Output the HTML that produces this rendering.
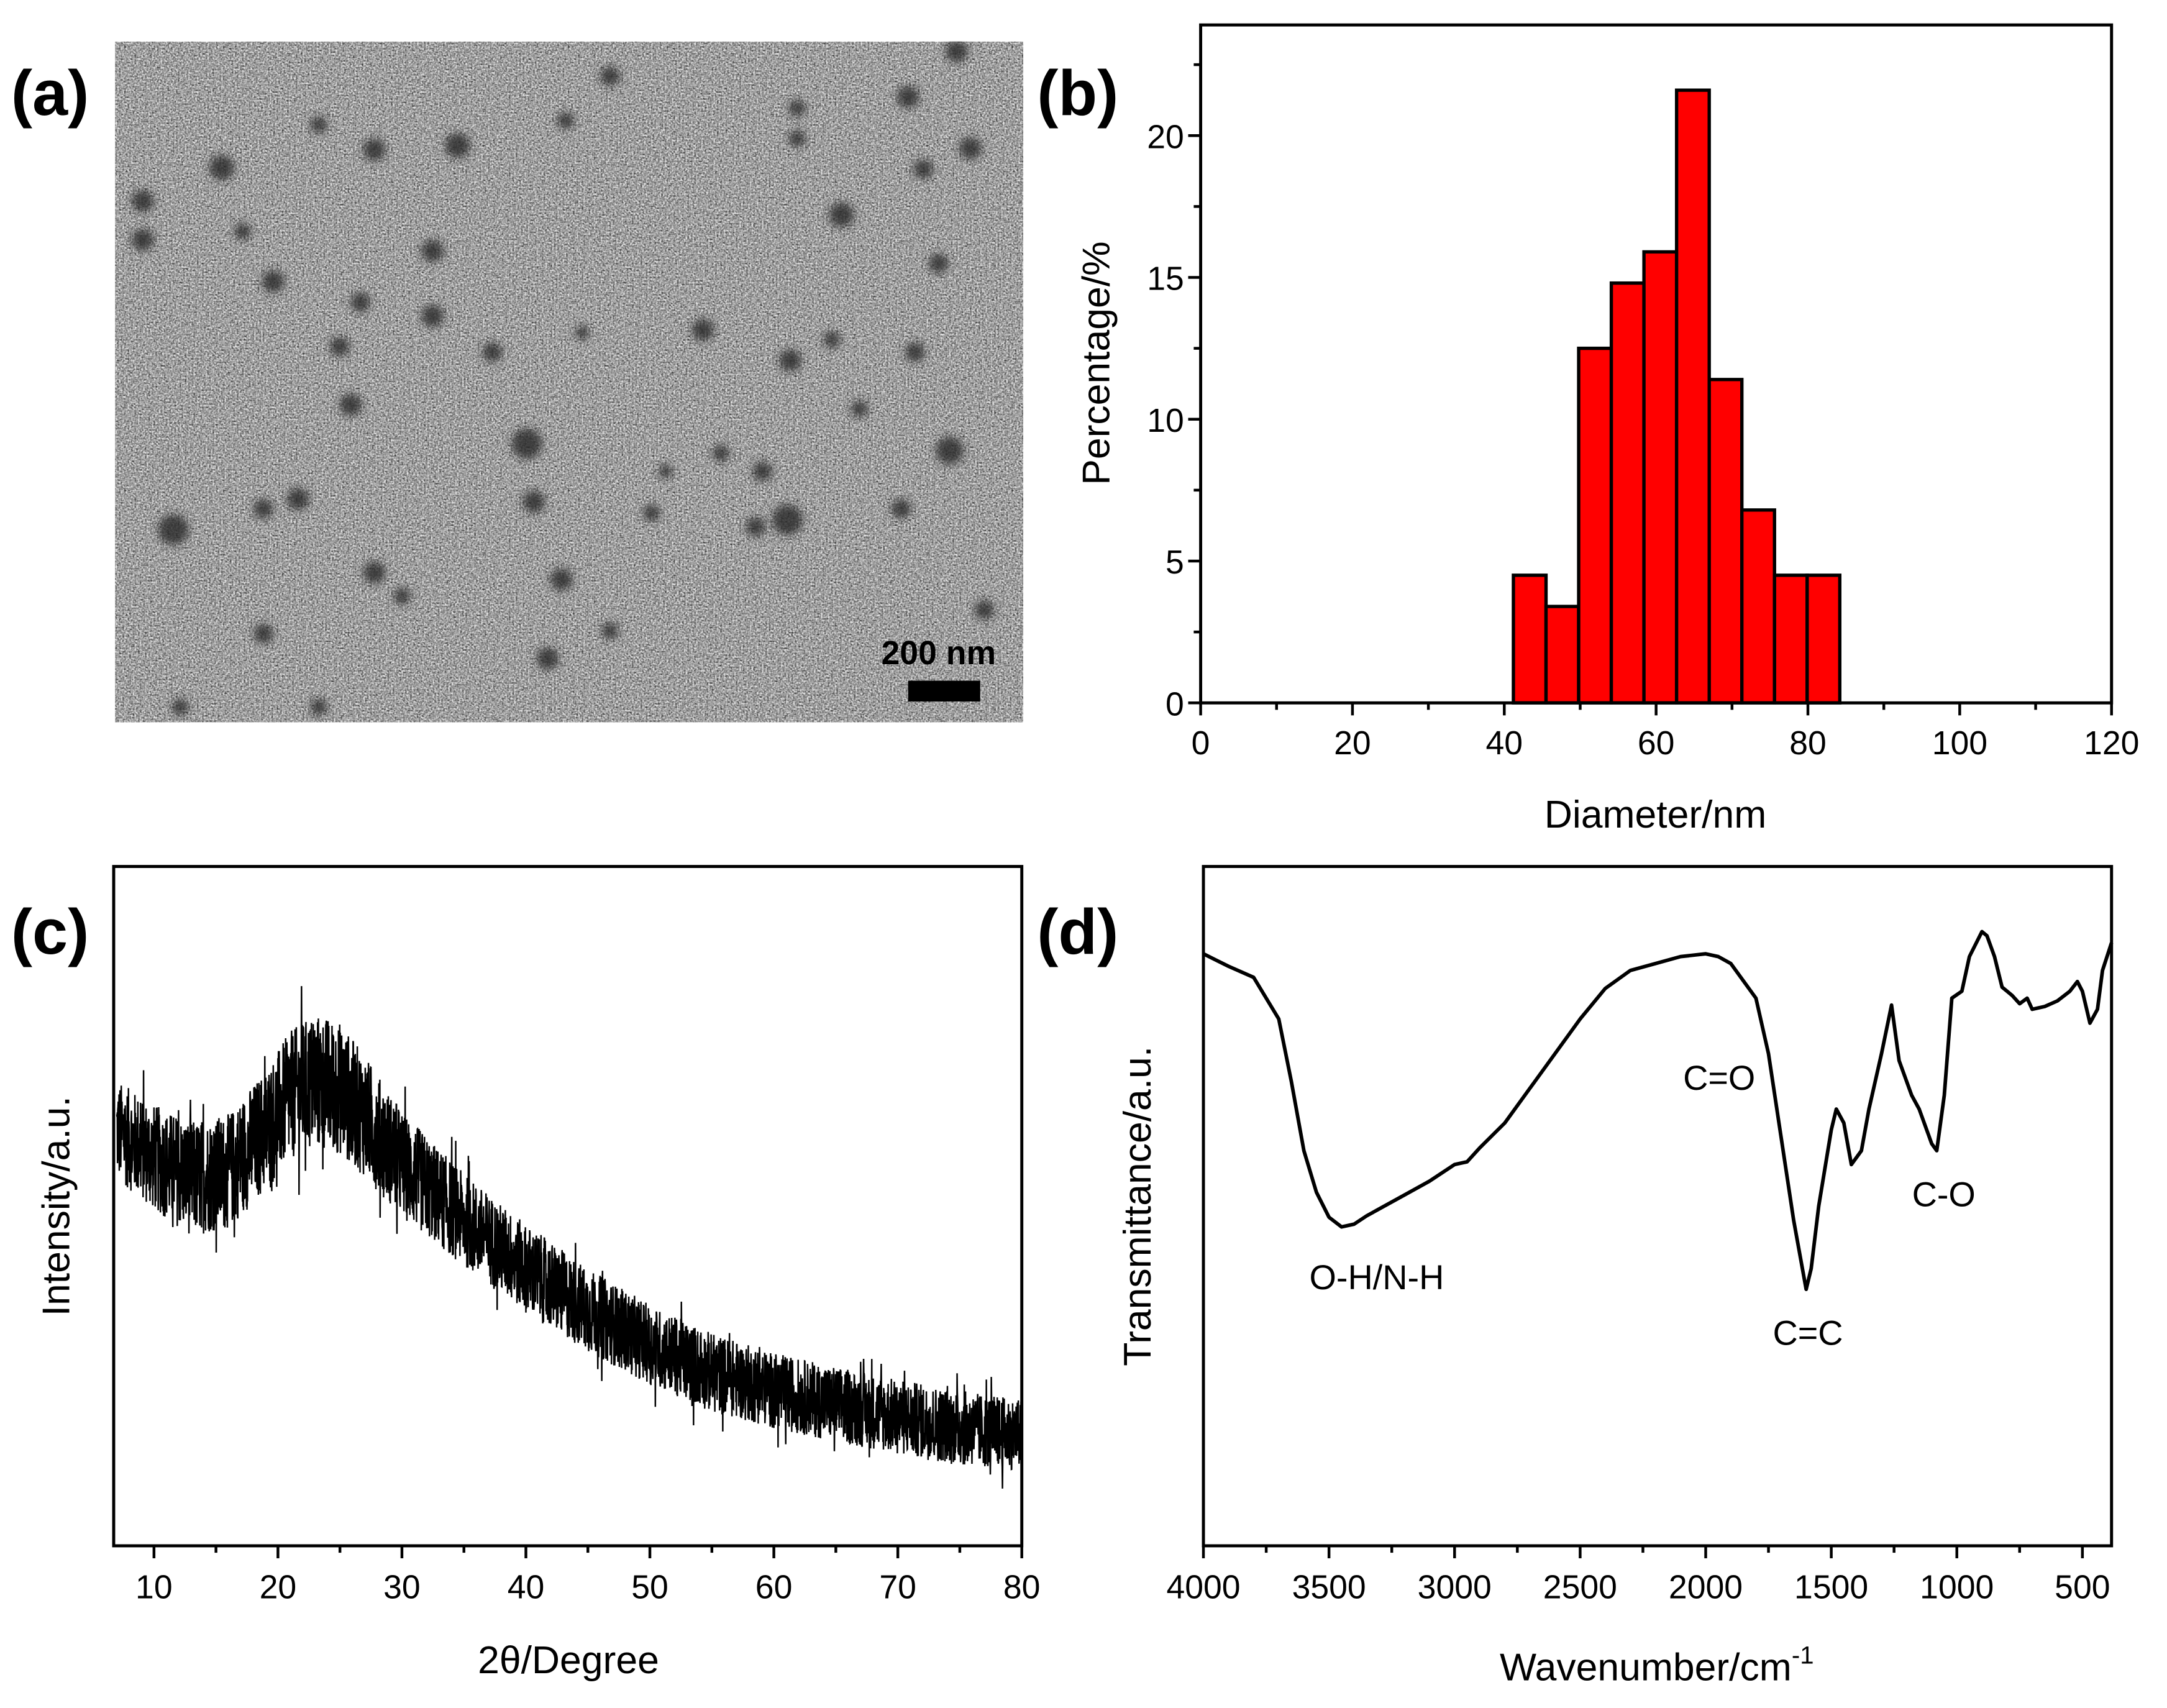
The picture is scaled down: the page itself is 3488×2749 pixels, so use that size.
<!DOCTYPE html>
<html><head><meta charset="utf-8">
<style>
html,body{margin:0;padding:0;background:#fff;}
svg{display:block;}
text{font-family:"Liberation Sans",sans-serif;}
</style></head>
<body>
<svg id="fig" width="3488" height="2749" viewBox="0 0 1563 1232" preserveAspectRatio="none" xmlns="http://www.w3.org/2000/svg">
<defs>
<filter id="grain" x="0" y="0" width="100%" height="100%" color-interpolation-filters="sRGB">
<feTurbulence type="fractalNoise" baseFrequency="0.8" numOctaves="2" seed="3" result="n"/>
<feColorMatrix type="matrix" values="0.33 0.33 0.33 0 0  0.33 0.33 0.33 0 0  0.33 0.33 0.33 0 0  0 0 0 0 1"/>
<feComponentTransfer><feFuncR type="linear" slope="2.6" intercept="-0.68"/><feFuncG type="linear" slope="2.6" intercept="-0.68"/><feFuncB type="linear" slope="2.6" intercept="-0.68"/></feComponentTransfer>
</filter>
<filter id="soft"><feGaussianBlur stdDeviation="3"/></filter>
<clipPath id="clipA"><rect x="83" y="30" width="655" height="491"/></clipPath>
<clipPath id="clipC"><rect x="82" y="625" width="655" height="490"/></clipPath>
</defs>

<!-- Panel a -->
<text x="8" y="83" font-size="46" font-weight="bold">(a)</text>
<g id="tem" clip-path="url(#clipA)">
<rect x="83" y="30" width="655" height="491" fill="#a8a8a8"/>
<rect x="83" y="30" width="655" height="491" filter="url(#grain)" opacity="0.7"/>
<g id="spots" filter="url(#soft)"></g>
</g>
<text x="677" y="479" font-size="24" font-weight="bold" text-anchor="middle">200 nm</text>
<rect x="655" y="491" width="52" height="15" fill="#000"/>

<!-- Panel b -->
<text x="748" y="83" font-size="46" font-weight="bold">(b)</text>
<g id="panelB"></g>
<text x="1194" y="597" font-size="28" text-anchor="middle">Diameter/nm</text>
<text transform="translate(800,262) rotate(-90)" font-size="28" text-anchor="middle">Percentage/%</text>

<!-- Panel c -->
<text x="8" y="688" font-size="46" font-weight="bold">(c)</text>
<g id="panelC"></g>
<text x="410" y="1207" font-size="28" text-anchor="middle">2θ/Degree</text>
<text transform="translate(50,870) rotate(-90)" font-size="28" text-anchor="middle">Intensity/a.u.</text>

<!-- Panel d -->
<text x="748" y="688" font-size="46" font-weight="bold">(d)</text>
<g id="panelD"></g>
<text x="1195" y="1212" font-size="28" text-anchor="middle">Wavenumber/cm<tspan dy="-12" font-size="18">-1</tspan></text>
<text transform="translate(830,870) rotate(-90)" font-size="28" text-anchor="middle">Transmittance/a.u.</text>
<text x="993" y="930" font-size="25" text-anchor="middle">O-H/N-H</text>
<text x="1240" y="786" font-size="25" text-anchor="middle">C=O</text>
<text x="1304" y="970" font-size="25" text-anchor="middle">C=C</text>
<text x="1402" y="870" font-size="25" text-anchor="middle">C-O</text>
</svg>

<script>
const NS = "http://www.w3.org/2000/svg";
// ---- Panel a spots (image features) ----
const spotX = [160,270,330,103,103,175,197,260,312,312,245,253,355,380,385,440,408,655,690,700,607,666,677,507,570,600,660,550,568,545,685,125,215,190,270,405,190,395,440,520,470,650,710,620,575,575,290,130,230,230,420,480];
const spotY = [121,108,105,145,173,167,203,218,181,228,250,292,254,320,362,55,87,70,37,107,155,122,190,238,260,245,254,340,375,380,325,382,360,367,413,418,457,475,455,327,370,367,440,295,78,100,430,510,90,510,240,340];
const spotR = [9,8,9,8,8,6,8,7,8,8,7,8,7,11,8,7,6,8,8,8,9,7,7,8,8,6,7,7,11,7,10,11,8,7,8,8,7,8,6,6,6,7,7,6,6,6,6,6,6,6,5,5];
const spots = document.getElementById('spots');
for (let i=0;i<spotX.length;i++){
  const c=document.createElementNS(NS,'circle');
  c.setAttribute('cx',spotX[i]);c.setAttribute('cy',spotY[i]);c.setAttribute('r',spotR[i]);
  c.setAttribute('fill','#252525');c.setAttribute('opacity','0.8');
  
  
  spots.appendChild(c);
}

function mk(tag, attrs, parent){
  const e=document.createElementNS(NS,tag);
  for(const k in attrs) e.setAttribute(k,attrs[k]);
  parent.appendChild(e); return e;
}

// ---- Panel b: histogram ----
const binStarts = [41.2,45.5,49.8,54.1,58.4,62.7,67.0,71.3,75.6,79.9];
const binWidth = 4.3;
const percentages = [4.5,3.4,12.5,14.8,15.9,21.6,11.4,6.8,4.5,4.5];
const bXTicks = [0,20,40,60,80,100,120];
const bYTicks = [0,5,10,15,20];
const B = {l:866,r:1523,t:18,b:507,x0:0,x1:120,y0:0,y1:23.9};
const bx = v => B.l + (v-B.x0)/(B.x1-B.x0)*(B.r-B.l);
const by = v => B.b - (v-B.y0)/(B.y1-B.y0)*(B.b-B.t);
const gB = document.getElementById('panelB');
for (let i=0;i<percentages.length;i++){
  const r=mk('rect',{x:bx(binStarts[i]),y:by(percentages[i]),width:bx(binStarts[i]+binWidth)-bx(binStarts[i]),height:by(0)-by(percentages[i]),fill:'#ff0000',stroke:'#000','stroke-width':2.4},gB);
  
  
}
let fb=mk('rect',{x:B.l,y:B.t,width:B.r-B.l,height:B.b-B.t,fill:'none',stroke:'#000','stroke-width':2.2},gB);


for (let v=0; v<=120; v+=10){
  const major = bXTicks.includes(v);
  mk('line',{x1:bx(v),x2:bx(v),y1:B.b,y2:B.b+(major?9:5),stroke:'#000','stroke-width':2},gB);
}
bXTicks.forEach(v=>{
  const t=mk('text',{x:bx(v),y:B.b+37,'font-size':24,'text-anchor':'middle'},gB); t.textContent=v;
  
  
});
for (let v=0; v<=22.5; v+=2.5){
  const major = bYTicks.includes(v);
  mk('line',{x1:B.l,x2:B.l-(major?9:5),y1:by(v),y2:by(v),stroke:'#000','stroke-width':2},gB);
}
bYTicks.forEach(v=>{
  const t=mk('text',{x:B.l-12,y:by(v)+9,'font-size':24,'text-anchor':'end'},gB); t.textContent=v;
  
  
});

// ---- Panel c: XRD ----
const xrdAngles = [7,10,13,16,19,21,23,25,27,30,35,40,45,50,55,60,65,70,75,80];
const xrdBaseline = [300,280,265,270,300,325,335,330,310,275,235,200,170,145,125,112,102,93,85,80];
const xrdNoiseAmp = [45,48,52,52,55,58,62,60,55,48,42,40,38,36,36,34,34,34,34,32];
const cXTicks = [10,20,30,40,50,60,70,80];
const C = {l:82,r:737,t:625,b:1115,x0:6.75,x1:80,y0:0,y1:490};
const cx = v => C.l + (v-C.x0)/(C.x1-C.x0)*(C.r-C.l);
const cy = v => C.b - (v-C.y0)/(C.y1-C.y0)*(C.b-C.t);
const gC = document.getElementById('panelC');
function interp(xs, ys, x){
  for(let i=0;i<xs.length-1;i++){ if(x<=xs[i+1]){ const f=(x-xs[i])/(xs[i+1]-xs[i]); return ys[i]+f*(ys[i+1]-ys[i]); } }
  return ys[ys.length-1];
}
let seed=12345; function rnd(){ seed=(seed*1103515245+12345)%2147483648; return seed/2147483648; }
let dC='';
for (let x=xrdAngles[0]; x<=80; x+=0.02){
  const base=interp(xrdAngles,xrdBaseline,x), amp=interp(xrdAngles,xrdNoiseAmp,x);
  let n=(rnd()*2-1)*amp*0.8; if(rnd()<0.04) n*=1.6;
  dC += (dC?'L':'M')+cx(x).toFixed(2)+','+cy(base+n).toFixed(2);
}
const gCc=mk('g',{'clip-path':'url(#clipC)'},gC);
let pc=mk('path',{d:dC,fill:'none',stroke:'#000','stroke-width':1.1},gCc);


let fc=mk('rect',{x:C.l,y:C.t,width:C.r-C.l,height:C.b-C.t,fill:'none',stroke:'#000','stroke-width':2.2},gC);


for (let v=10; v<=80; v+=5){
  const major = cXTicks.includes(v);
  mk('line',{x1:cx(v),x2:cx(v),y1:C.b,y2:C.b+(major?9:5),stroke:'#000','stroke-width':2},gC);
}
cXTicks.forEach(v=>{
  const t=mk('text',{x:cx(v),y:C.b+38,'font-size':24,'text-anchor':'middle'},gC); t.textContent=v;
  
  
});

// ---- Panel d: FTIR ----
const wavenumbers = [4000,3900,3800,3700,3650,3600,3550,3500,3450,3400,3350,3300,3200,3100,3000,2950,2900,2800,2700,2600,2500,2400,2300,2200,2100,2000,1950,1900,1800,1750,1700,1650,1600,1580,1550,1500,1480,1450,1420,1380,1350,1300,1260,1230,1180,1150,1100,1080,1050,1020,980,950,900,880,850,820,780,750,720,700,650,600,550,520,500,470,440,420,384];
const transmittance = [427,418,410,380,335,285,255,237,230,232,238,243,253,263,275,277,287,305,330,355,380,402,415,420,425,427,425,420,395,355,295,235,185,200,245,300,315,305,275,285,315,355,390,350,325,315,290,285,325,395,400,425,443,440,425,403,397,391,395,387,389,393,400,407,400,377,387,415,435];
const dXTicks = [4000,3500,3000,2500,2000,1500,1000,500];
const D = {l:868,r:1523,t:625,b:1115,x0:4000,x1:384,y0:0,y1:490};
const dx = v => D.l + (v-D.x0)/(D.x1-D.x0)*(D.r-D.l);
const dy = v => D.b - (v-D.y0)/(D.y1-D.y0)*(D.b-D.t);
const gD = document.getElementById('panelD');
let dD='';
for (let i=0;i<wavenumbers.length;i++) dD += (i?'L':'M')+dx(wavenumbers[i]).toFixed(2)+','+dy(transmittance[i]).toFixed(2);
let pd=mk('path',{d:dD,fill:'none',stroke:'#000','stroke-width':2.6,'stroke-linejoin':'round'},gD);


let fd=mk('rect',{x:D.l,y:D.t,width:D.r-D.l,height:D.b-D.t,fill:'none',stroke:'#000','stroke-width':2.2},gD);


for (let v=4000; v>=500; v-=250){
  const major = dXTicks.includes(v);
  mk('line',{x1:dx(v),x2:dx(v),y1:D.b,y2:D.b+(major?9:5),stroke:'#000','stroke-width':2},gD);
}
dXTicks.forEach(v=>{
  const t=mk('text',{x:dx(v),y:D.b+38,'font-size':24,'text-anchor':'middle'},gD); t.textContent=v;
  
  
});
</script>
</body></html>
